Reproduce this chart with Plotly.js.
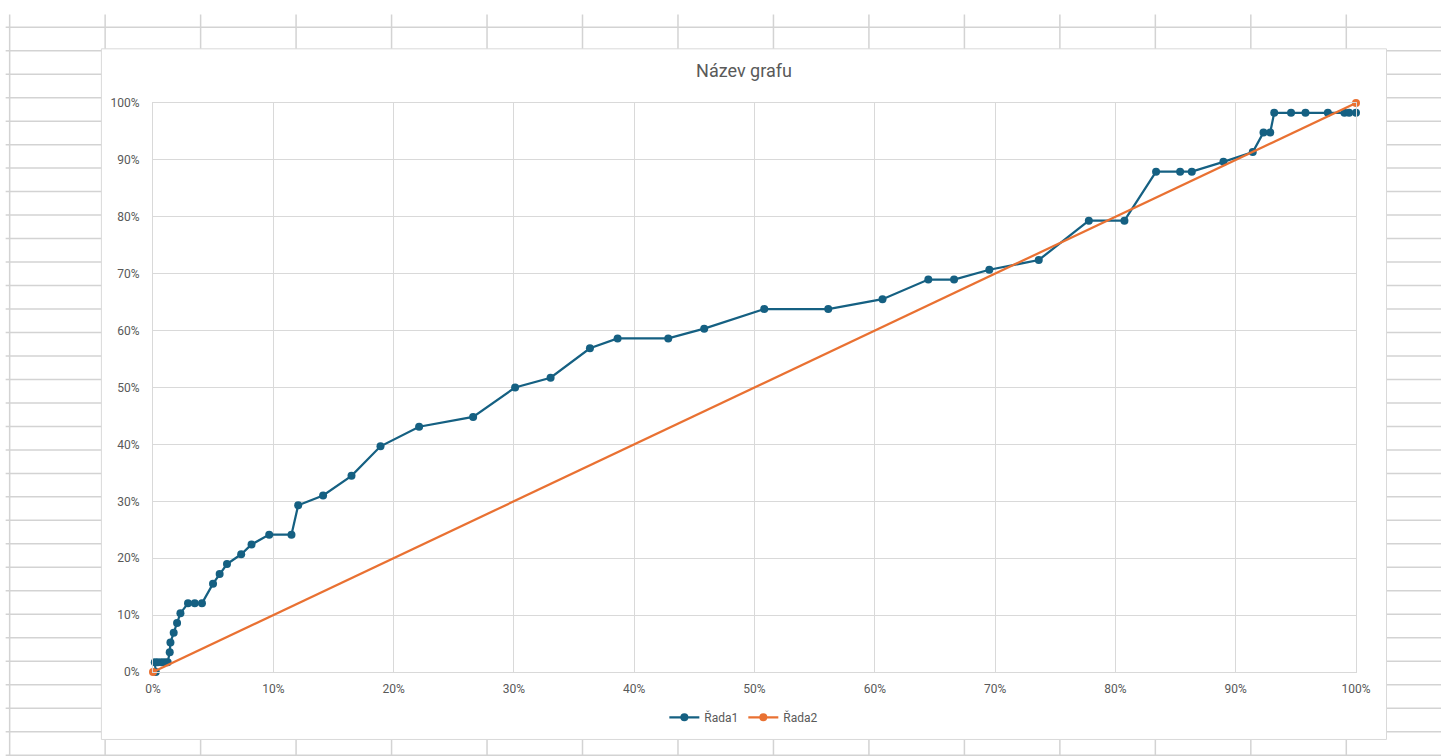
<!DOCTYPE html>
<html>
<head>
<meta charset="utf-8">
<script src="https://cdn.plot.ly/plotly-3.0.1.min.js"></script>
<style>
  html, body { margin: 0; padding: 0; background: #ffffff; }
  #chart { width: 1441px; height: 756px; }
</style>
</head>
<body>
<div id="chart"></div>
<script>
// ---- data (fractions of 1) ----
const series1Name = "Řada1";
const series2Name = "Řada2";
const series1X = [0.0023, 0.0015, 0.0040, 0.0070, 0.0097, 0.0122, 0.0139, 0.0145, 0.0172, 0.0200, 0.0228,
  0.0291, 0.0347, 0.0407, 0.0499, 0.0554, 0.0615, 0.0733, 0.0819, 0.0966, 0.1151, 0.1207,
  0.1414, 0.1650, 0.1891, 0.2212, 0.2661, 0.3010, 0.3305, 0.3632, 0.3862, 0.4283, 0.4582,
  0.5081, 0.5613, 0.6064, 0.6445, 0.6659, 0.6952, 0.7363, 0.7779, 0.8075, 0.8338, 0.8538,
  0.8635, 0.8898, 0.9142, 0.9231, 0.9287, 0.9320, 0.9460, 0.9580, 0.9766, 0.9904, 0.9943, 1.0000];
const series1Y = [0.0000, 0.0172, 0.0172, 0.0172, 0.0172, 0.0172, 0.0345, 0.0517, 0.0690, 0.0862, 0.1034,
  0.1207, 0.1207, 0.1207, 0.1552, 0.1724, 0.1897, 0.2069, 0.2241, 0.2414, 0.2414, 0.2931,
  0.3103, 0.3448, 0.3966, 0.4310, 0.4483, 0.5000, 0.5172, 0.5690, 0.5862, 0.5862, 0.6034,
  0.6379, 0.6379, 0.6552, 0.6897, 0.6897, 0.7069, 0.7241, 0.7931, 0.7931, 0.8793, 0.8793,
  0.8793, 0.8966, 0.9138, 0.9483, 0.9483, 0.9828, 0.9828, 0.9828, 0.9828, 0.9828, 0.9828, 0.9828];
const series2X = [0, 1];
const series2Y = [0, 1];
const tickVals = [0, 0.1, 0.2, 0.3, 0.4, 0.5, 0.6, 0.7, 0.8, 0.9, 1.0];
const tickText = ["0%", "10%", "20%", "30%", "40%", "50%", "60%", "70%", "80%", "90%", "100%"];
const chartTitle = "Název grafu";

// ---- layout geometry (pixels) ----
const W = 1441, H = 756;
const plotL = 153.3, plotR = 1356, plotT = 102.5, plotB = 671.7;
const px = x => (x - plotL) / (plotR - plotL);
const py = y => (plotB - y) / (plotB - plotT);

const shapes = [];
// spreadsheet grid behind the chart
const gridColor = "#d3d3d3";
for (let k = 0; k <= 31; k++) {
  const y = 26.7 + 23.49 * k;
  shapes.push({type: "line", xref: "paper", yref: "paper", layer: "below",
    x0: px(6), x1: px(W), y0: py(y), y1: py(y), line: {color: gridColor, width: 1.5}});
}
for (let j = 0; j <= 15; j++) {
  const x = 10 + 95.45 * j;
  shapes.push({type: "line", xref: "paper", yref: "paper", layer: "below",
    x0: px(x), x1: px(x), y0: py(14), y1: py(H), line: {color: gridColor, width: 1.5}});
}
// chart area box
shapes.push({type: "rect", xref: "paper", yref: "paper", layer: "below",
  x0: px(101.7), x1: px(1386.5), y0: py(48.3), y1: py(739.2),
  fillcolor: "#ffffff", line: {color: "#d9d9d9", width: 1}});

const textColor = "#595959";
const fontFamily = "Roboto, 'Open Sans', sans-serif";

const traces = [
  {x: series1X, y: series1Y, name: series1Name, type: "scatter", mode: "lines+markers",
   line: {color: "#156082", width: 2.25}, marker: {color: "#156082", size: 8},
   cliponaxis: false},
  {x: series2X, y: series2Y, name: series2Name, type: "scatter", mode: "lines+markers",
   line: {color: "#E97132", width: 2.25}, marker: {color: "#E97132", size: 8},
   cliponaxis: false}
];

const axisCommon = {
  range: [0, 1], tickvals: tickVals, ticktext: tickText,
  showgrid: true, gridcolor: "#d9d9d9", gridwidth: 1,
  zeroline: false, showline: true, linecolor: "#d9d9d9", linewidth: 1, mirror: true,
  ticks: "", tickfont: {family: fontFamily, size: 12, color: textColor},
  fixedrange: true
};

const layout = {
  width: W, height: H,
  margin: {l: plotL, r: W - plotR, t: plotT, b: H - plotB, pad: 0},
  paper_bgcolor: "#ffffff", plot_bgcolor: "rgba(0,0,0,0)",
  font: {family: fontFamily, color: textColor},
  title: {text: chartTitle, font: {family: fontFamily, size: 18, color: textColor},
    xref: "container", yref: "container", x: 744 / W, y: 1 - 71 / H,
    xanchor: "center", yanchor: "middle", automargin: false},
  xaxis: Object.assign({}, axisCommon, {ticklabelstandoff: 6}),
  yaxis: Object.assign({}, axisCommon, {ticklabelstandoff: 10}),
  showlegend: true,
  legend: {orientation: "h", x: px(744), y: py(717), xanchor: "center", yanchor: "middle",
    font: {family: fontFamily, size: 12, color: textColor}, itemwidth: 30,
    bgcolor: "rgba(0,0,0,0)"},
  shapes: shapes
};

Plotly.newPlot("chart", traces, layout, {displayModeBar: false, staticPlot: true});
</script>
</body>
</html>
